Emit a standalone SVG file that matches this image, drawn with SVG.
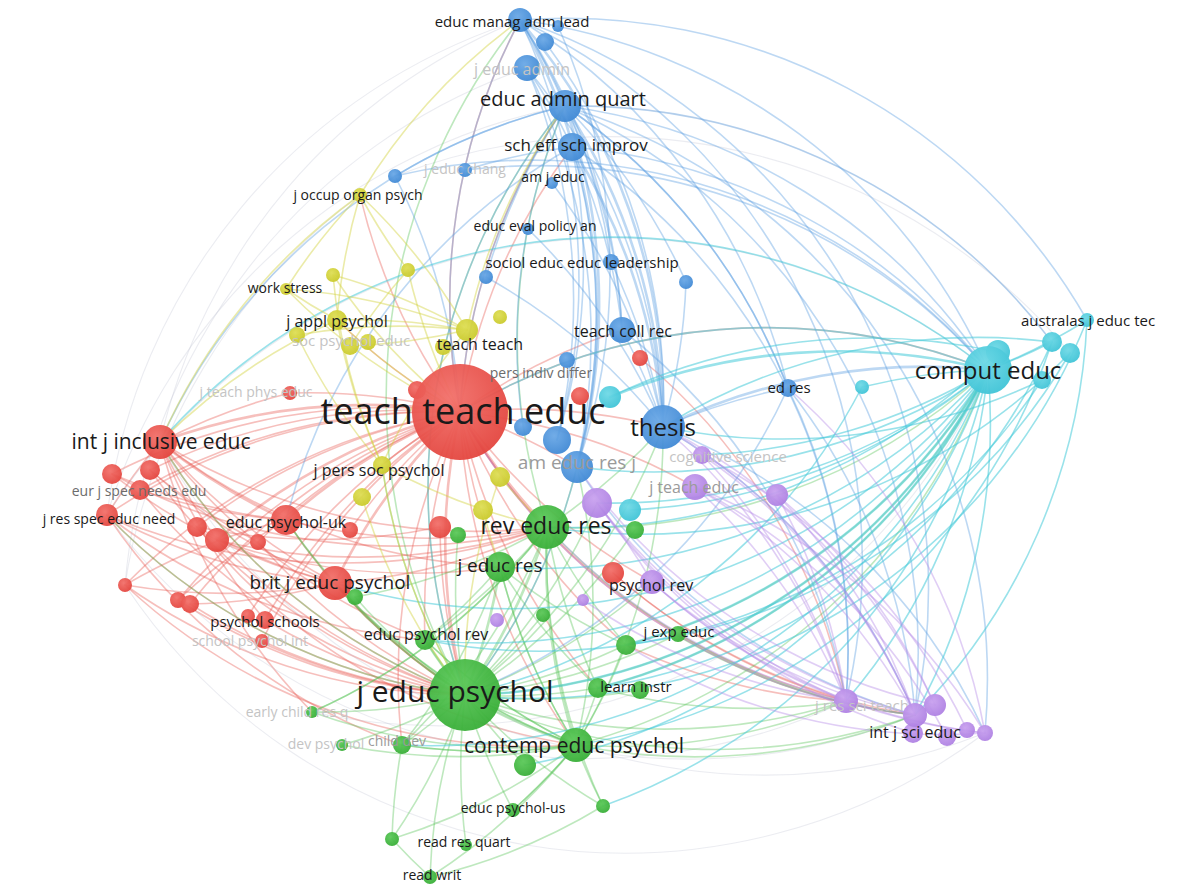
<svg xmlns="http://www.w3.org/2000/svg" width="1179" height="887" viewBox="0 0 1179 887">
<defs>
<radialGradient id="gr" cx="40%" cy="35%" r="70%"><stop offset="0" stop-color="#f2706a"/><stop offset="1" stop-color="#e3443d"/></radialGradient>
<radialGradient id="gg" cx="40%" cy="35%" r="70%"><stop offset="0" stop-color="#5cc95a"/><stop offset="1" stop-color="#37ad36"/></radialGradient>
<radialGradient id="gb" cx="40%" cy="35%" r="70%"><stop offset="0" stop-color="#6aa8e6"/><stop offset="1" stop-color="#3f88d4"/></radialGradient>
<radialGradient id="gc" cx="40%" cy="35%" r="70%"><stop offset="0" stop-color="#6fd9e6"/><stop offset="1" stop-color="#3ec3d6"/></radialGradient>
<radialGradient id="gp" cx="40%" cy="35%" r="70%"><stop offset="0" stop-color="#c9a2ef"/><stop offset="1" stop-color="#ad7fe2"/></radialGradient>
<radialGradient id="gy" cx="40%" cy="35%" r="70%"><stop offset="0" stop-color="#dede55"/><stop offset="1" stop-color="#c9c92a"/></radialGradient>
</defs>
<style>
path{fill:none;stroke-width:1.6;stroke-linecap:round}
.r{stroke:#e8564f;stroke-opacity:.38}
.g{stroke:#55c253;stroke-opacity:.38}
.b{stroke:#5a9ee2;stroke-opacity:.4}
.c{stroke:#46cbd9;stroke-opacity:.55}
.p{stroke:#b48ae6;stroke-opacity:.42}
.y{stroke:#d2d240;stroke-opacity:.45}
.k{stroke:#b6bccd;stroke-opacity:.28;stroke-width:1.1}
.w{stroke-width:2.6}
.nr{fill:url(#gr)}.ng{fill:url(#gg)}.nb{fill:url(#gb)}.nc{fill:url(#gc)}.np{fill:url(#gp)}.ny{fill:url(#gy)}
circle{fill-opacity:.95}
text{font-family:"Open Sans","Noto Sans","DejaVu Sans",sans-serif;fill:#1a1a1a;text-anchor:middle}
.f1{fill:#6c6c6c}.f2{fill:#9a9a9a}.f3{fill:#c4c4c4}
</style>
<rect width="1179" height="887" fill="#ffffff"/>
<g id="connectors">
<path class="r w" d="M460 412A600 600 0 0 0 160 442"/>
<path class="r" d="M460 412A600 600 0 0 0 107 515"/>
<path class="r w" d="M460 412A600 600 0 0 0 217 540"/>
<path class="r w" d="M460 412A600 600 0 0 0 286 520"/>
<path class="r w" d="M460 412A600 600 0 0 0 335 583"/>
<path class="r" d="M460 412A600 600 0 0 0 125 585"/>
<path class="r" d="M460 412A600 600 0 0 0 190 604"/>
<path class="r" d="M460 412A600 600 0 0 0 265 620"/>
<path class="r" d="M460 412A600 600 0 0 0 262 641"/>
<path class="r" d="M460 412A600 600 0 0 0 112 474"/>
<path class="r" d="M460 412A600 600 0 0 0 150 470"/>
<path class="r" d="M460 412A600 600 0 0 0 140 490"/>
<path class="r" d="M460 412A600 600 0 0 0 197 527"/>
<path class="r" d="M460 412A600 600 0 0 0 290 393"/>
<path class="r w" d="M460 412A600 600 0 0 0 547 527"/>
<path class="r w" d="M460 412A600 600 0 0 0 465 695"/>
<path class="r" d="M460 412A600 600 0 0 1 663 427"/>
<path class="r" d="M460 412A600 600 0 0 1 565 106"/>
<path class="r" d="M460 412A600 600 0 0 1 572 147"/>
<path class="r" d="M460 412A600 600 0 0 1 988 370"/>
<path class="r" d="M460 412A600 600 0 0 0 846 701"/>
<path class="r" d="M460 412A600 600 0 0 0 915 715"/>
<path class="r" d="M460 412A600 600 0 0 0 500 567"/>
<path class="r" d="M460 412A600 600 0 0 0 425 640"/>
<path class="r" d="M460 412A600 600 0 0 1 622 330"/>
<path class="r" d="M460 412A600 600 0 0 1 337 320"/>
<path class="r" d="M460 412A600 600 0 0 1 360 195"/>
<path class="r" d="M460 412A600 600 0 0 1 520 20"/>
<path class="r" d="M460 412A600 600 0 0 0 576 745"/>
<path class="r" d="M460 412A600 600 0 0 0 382 465"/>
<path class="r" d="M460 412A600 600 0 0 1 577 467"/>
<path class="r" d="M460 412A600 600 0 0 0 258 542"/>
<path class="r" d="M460 412A600 600 0 0 0 350 530"/>
<path class="r" d="M460 412A600 600 0 0 0 178 600"/>
<path class="r" d="M460 412A600 600 0 0 0 248 616"/>
<path class="r" d="M460 412A600 600 0 0 0 402 745"/>
<path class="r" d="M460 412A600 600 0 0 0 626 645"/>
<path class="r" d="M460 412A600 600 0 0 0 598 688"/>
<path class="r" d="M460 412A600 600 0 0 0 652 582"/>
<path class="r" d="M460 412A600 600 0 0 1 695 487"/>
<path class="r" d="M160 442A600 600 0 0 0 107 515"/>
<path class="r w" d="M160 442A600 600 0 0 0 286 520"/>
<path class="r" d="M160 442A600 600 0 0 0 335 583"/>
<path class="r" d="M160 442A600 600 0 0 0 465 695"/>
<path class="r" d="M107 515A600 600 0 0 0 335 583"/>
<path class="r" d="M107 515A600 600 0 0 0 465 695"/>
<path class="r" d="M125 585A600 600 0 0 1 286 520"/>
<path class="r" d="M125 585A600 600 0 0 0 335 583"/>
<path class="r" d="M190 604A600 600 0 0 0 465 695"/>
<path class="r" d="M286 520A600 600 0 0 0 547 527"/>
<path class="r w" d="M335 583A600 600 0 0 0 465 695"/>
<path class="r" d="M335 583A600 600 0 0 0 547 527"/>
<path class="r" d="M160 442A600 600 0 0 0 217 540"/>
<path class="r" d="M613 573A600 600 0 0 0 846 701"/>
<path class="r" d="M613 573A600 600 0 0 0 915 715"/>
<path class="r" d="M626 645A600 600 0 0 0 846 701"/>
<path class="r" d="M640 358A600 600 0 0 1 846 701"/>
<path class="r" d="M125 585A600 600 0 0 0 576 745"/>
<path class="r" d="M107 515A600 600 0 0 0 402 745"/>
<path class="r" d="M178 600A600 600 0 0 0 465 695"/>
<path class="r" d="M160 442A600 600 0 0 0 312 712"/>
<path class="r" d="M112 474A600 600 0 0 0 335 583"/>
<path class="r" d="M140 490A600 600 0 0 0 286 520"/>
<path class="r" d="M290 393A600 600 0 0 0 160 442"/>
<path class="r" d="M440 527A600 600 0 0 0 465 695"/>
<path class="r" d="M150 470A600 600 0 0 0 258 542"/>
<path class="r" d="M197 527A600 600 0 0 0 440 527"/>
<path class="r" d="M217 540A600 600 0 0 0 500 567"/>
<path class="r" d="M112 474A600 600 0 0 0 286 520"/>
<path class="r" d="M150 470A600 600 0 0 0 335 583"/>
<path class="r" d="M197 527A600 600 0 0 0 335 583"/>
<path class="r" d="M217 540A600 600 0 0 0 465 695"/>
<path class="r" d="M258 542A600 600 0 0 0 465 695"/>
<path class="r" d="M140 490A600 600 0 0 0 465 695"/>
<path class="r" d="M107 515A600 600 0 0 0 547 527"/>
<path class="r" d="M160 442A600 600 0 0 0 547 527"/>
<path class="r" d="M112 474A600 600 0 0 0 547 527"/>
<path class="r" d="M125 585A600 600 0 0 0 465 695"/>
<path class="r" d="M160 442A600 600 0 0 0 500 567"/>
<path class="r" d="M286 520A600 600 0 0 0 465 695"/>
<path class="r" d="M190 604A600 600 0 0 0 335 583"/>
<path class="r" d="M178 600A600 600 0 0 1 286 520"/>
<path class="r" d="M265 620A600 600 0 0 0 465 695"/>
<path class="r" d="M262 641A600 600 0 0 0 465 695"/>
<path class="r" d="M265 620A600 600 0 0 1 160 442"/>
<path class="r" d="M160 442A600 600 0 0 0 425 640"/>
<path class="r" d="M107 515A600 600 0 0 0 425 640"/>
<path class="r" d="M217 540A600 600 0 0 0 547 527"/>
<path class="r" d="M150 470A600 600 0 0 0 465 695"/>
<path class="r" d="M197 527A600 600 0 0 0 576 745"/>
<path class="k" d="M107 515A600 600 0 0 1 565 106"/>
<path class="k" d="M160 442A600 600 0 0 1 520 20"/>
<path class="k" d="M125 585A600 600 0 0 1 360 195"/>
<path class="k" d="M107 515A600 600 0 0 1 520 20"/>
<path class="k" d="M125 585A600 600 0 0 1 527 68"/>
<path class="k" d="M107 515A600 600 0 0 1 988 370"/>
<path class="k" d="M465 695A600 600 0 0 0 985 733"/>
<path class="k" d="M160 442A600 600 0 0 0 915 715"/>
<path class="k" d="M107 515A600 600 0 0 0 846 701"/>
<path class="k" d="M125 585A600 600 0 0 0 985 733"/>
<path class="k" d="M312 712A600 600 0 0 0 988 370"/>
<path class="k" d="M395 176A600 600 0 0 1 1070 353"/>
<path class="k" d="M565 106A600 600 0 0 1 1052 342"/>
<path class="g w" d="M465 695A600 600 0 0 0 576 745"/>
<path class="g w" d="M465 695A600 600 0 0 0 547 527"/>
<path class="g w" d="M465 695A600 600 0 0 0 500 567"/>
<path class="g" d="M465 695A600 600 0 0 1 425 640"/>
<path class="g" d="M465 695A600 600 0 0 0 626 645"/>
<path class="g" d="M465 695A600 600 0 0 0 598 688"/>
<path class="g" d="M465 695A600 600 0 0 0 603 806"/>
<path class="g" d="M465 695A600 600 0 0 1 392 839"/>
<path class="g" d="M465 695A600 600 0 0 0 430 877"/>
<path class="g" d="M465 695A600 600 0 0 1 402 745"/>
<path class="g" d="M465 695A600 600 0 0 1 312 712"/>
<path class="g" d="M465 695A600 600 0 0 1 342 745"/>
<path class="g" d="M465 695A600 600 0 0 0 525 765"/>
<path class="g" d="M465 695A600 600 0 0 0 846 701"/>
<path class="g" d="M465 695A600 600 0 0 0 915 715"/>
<path class="g" d="M465 695A600 600 0 0 0 988 370"/>
<path class="g" d="M465 695A600 600 0 0 0 663 427"/>
<path class="g" d="M465 695A600 600 0 0 1 286 520"/>
<path class="g" d="M465 695A600 600 0 0 0 577 467"/>
<path class="g" d="M465 695A600 600 0 0 1 458 535"/>
<path class="g" d="M465 695A600 600 0 0 0 635 530"/>
<path class="g" d="M465 695A600 600 0 0 0 543 615"/>
<path class="g" d="M465 695A600 600 0 0 1 355 597"/>
<path class="g" d="M465 695A600 600 0 0 0 678 634"/>
<path class="g" d="M465 695A600 600 0 0 0 513 810"/>
<path class="g" d="M465 695A600 600 0 0 0 466 845"/>
<path class="g" d="M465 695A600 600 0 0 0 640 690"/>
<path class="g" d="M465 695A600 600 0 0 1 335 583"/>
<path class="g" d="M465 695A600 600 0 0 1 160 442"/>
<path class="g" d="M465 695A600 600 0 0 1 107 515"/>
<path class="g w" d="M465 695A600 600 0 0 1 425 640"/>
<path class="g" d="M465 695A600 600 0 0 0 652 582"/>
<path class="g" d="M465 695A600 600 0 0 0 597 503"/>
<path class="g" d="M465 695A600 600 0 0 1 382 465"/>
<path class="g w" d="M576 745A600 600 0 0 1 547 527"/>
<path class="g" d="M576 745A600 600 0 0 0 603 806"/>
<path class="g" d="M576 745A600 600 0 0 1 392 839"/>
<path class="g" d="M576 745A600 600 0 0 1 430 877"/>
<path class="g" d="M576 745A600 600 0 0 0 988 370"/>
<path class="g" d="M576 745A600 600 0 0 0 846 701"/>
<path class="g" d="M576 745A600 600 0 0 0 915 715"/>
<path class="g" d="M576 745A600 600 0 0 1 312 712"/>
<path class="g" d="M576 745A600 600 0 0 0 626 645"/>
<path class="g" d="M576 745A600 600 0 0 1 500 567"/>
<path class="g" d="M576 745A600 600 0 0 1 425 640"/>
<path class="g" d="M576 745A600 600 0 0 1 402 745"/>
<path class="g" d="M576 745A600 600 0 0 0 598 688"/>
<path class="g" d="M576 745A600 600 0 0 1 513 810"/>
<path class="g" d="M576 745A600 600 0 0 1 335 583"/>
<path class="g" d="M576 745A600 600 0 0 1 286 520"/>
<path class="g" d="M576 745A600 600 0 0 0 663 427"/>
<path class="g" d="M576 745A600 600 0 0 0 577 467"/>
<path class="g" d="M547 527A600 600 0 0 0 626 645"/>
<path class="g" d="M547 527A600 600 0 0 1 425 640"/>
<path class="g" d="M547 527A600 600 0 0 0 663 427"/>
<path class="g" d="M547 527A600 600 0 0 0 988 370"/>
<path class="g" d="M547 527A600 600 0 0 1 565 106"/>
<path class="g" d="M547 527A600 600 0 0 0 915 715"/>
<path class="g" d="M547 527A600 600 0 0 0 598 688"/>
<path class="g" d="M547 527A600 600 0 0 1 402 745"/>
<path class="g" d="M547 527A600 600 0 0 1 312 712"/>
<path class="g" d="M547 527A600 600 0 0 0 603 806"/>
<path class="g" d="M500 567A600 600 0 0 0 598 688"/>
<path class="g" d="M500 567A600 600 0 0 0 576 745"/>
<path class="g" d="M500 567A600 600 0 0 1 402 745"/>
<path class="g" d="M500 567A600 600 0 0 0 626 645"/>
<path class="g" d="M500 567A600 600 0 0 1 425 640"/>
<path class="g" d="M425 640A600 600 0 0 0 576 745"/>
<path class="g" d="M626 645A600 600 0 0 0 988 370"/>
<path class="g" d="M598 688A600 600 0 0 0 988 370"/>
<path class="g" d="M598 688A600 600 0 0 0 846 701"/>
<path class="g" d="M678 636A600 600 0 0 0 915 715"/>
<path class="g" d="M392 839A600 600 0 0 0 430 877"/>
<path class="g" d="M402 745A600 600 0 0 0 576 745"/>
<path class="g" d="M465 695A600 600 0 0 1 520 20"/>
<path class="g" d="M465 695A600 600 0 0 1 565 106"/>
<path class="g" d="M355 597A600 600 0 0 0 547 527"/>
<path class="g" d="M402 745A600 600 0 0 0 392 839"/>
<path class="g" d="M513 810A600 600 0 0 0 576 745"/>
<path class="g" d="M342 745A600 600 0 0 0 576 745"/>
<path class="g" d="M312 712A600 600 0 0 0 547 527"/>
<path class="g" d="M430 877A600 600 0 0 0 603 806"/>
<path class="b w" d="M520 20A600 600 0 0 1 663 427"/>
<path class="b w" d="M565 106A600 600 0 0 1 663 427"/>
<path class="b w" d="M572 147A600 600 0 0 1 663 427"/>
<path class="b" d="M527 68A600 600 0 0 1 663 427"/>
<path class="b w" d="M520 20A600 600 0 0 1 577 467"/>
<path class="b w" d="M565 106A600 600 0 0 1 577 467"/>
<path class="b" d="M572 147A600 600 0 0 1 577 467"/>
<path class="b" d="M527 68A600 600 0 0 1 577 467"/>
<path class="b" d="M520 20A600 600 0 0 1 622 330"/>
<path class="b" d="M565 106A600 600 0 0 1 622 330"/>
<path class="b" d="M520 20A600 600 0 0 1 565 106"/>
<path class="b" d="M527 68A600 600 0 0 1 572 147"/>
<path class="b" d="M520 20A600 600 0 0 1 988 370"/>
<path class="b" d="M565 106A600 600 0 0 1 988 370"/>
<path class="b" d="M572 147A600 600 0 0 1 988 370"/>
<path class="b" d="M520 20A600 600 0 0 1 1087 320"/>
<path class="b" d="M565 106A600 600 0 0 1 1052 342"/>
<path class="b" d="M565 106A600 600 0 0 0 160 442"/>
<path class="b" d="M572 147A600 600 0 0 0 286 520"/>
<path class="b" d="M565 106A600 600 0 0 0 465 695"/>
<path class="b" d="M572 147A600 600 0 0 1 846 701"/>
<path class="b" d="M565 106A600 600 0 0 1 915 715"/>
<path class="b" d="M520 20A600 600 0 0 1 915 715"/>
<path class="b w" d="M663 427A600 600 0 0 1 988 370"/>
<path class="b" d="M663 427A600 600 0 0 1 788 388"/>
<path class="b" d="M788 388A600 600 0 0 0 565 106"/>
<path class="b" d="M788 388A600 600 0 0 1 846 701"/>
<path class="b" d="M788 388A600 600 0 0 1 915 715"/>
<path class="b" d="M788 388A600 600 0 0 1 465 695"/>
<path class="b" d="M395 176A600 600 0 0 1 565 106"/>
<path class="b" d="M465 170A600 600 0 0 1 572 147"/>
<path class="b" d="M486 277A600 600 0 0 1 565 106"/>
<path class="b" d="M611 262A600 600 0 0 0 520 20"/>
<path class="b" d="M686 282A600 600 0 0 0 565 106"/>
<path class="b" d="M686 282A600 600 0 0 1 663 427"/>
<path class="b" d="M552 183A600 600 0 0 1 663 427"/>
<path class="b" d="M528 229A600 600 0 0 1 663 427"/>
<path class="b" d="M395 176A600 600 0 0 1 988 370"/>
<path class="b" d="M465 170A600 600 0 0 1 988 370"/>
<path class="b" d="M577 467A600 600 0 0 1 465 695"/>
<path class="b" d="M520 20A600 600 0 0 1 846 701"/>
<path class="b" d="M545 42A600 600 0 0 1 663 427"/>
<path class="b" d="M558 26A600 600 0 0 1 577 467"/>
<path class="b" d="M622 330A600 600 0 0 1 663 427"/>
<path class="b" d="M395 176A600 600 0 0 1 460 412"/>
<path class="b" d="M520 20A600 600 0 0 1 557 440"/>
<path class="b" d="M527 68A600 600 0 0 1 557 440"/>
<path class="b" d="M572 147A600 600 0 0 1 557 440"/>
<path class="b" d="M565 106A600 600 0 0 0 523 427"/>
<path class="b" d="M520 20A600 600 0 0 0 460 412"/>
<path class="b" d="M565 106A600 600 0 0 0 460 412"/>
<path class="b" d="M565 106A600 600 0 0 1 788 388"/>
<path class="b" d="M520 20A600 600 0 0 1 788 388"/>
<path class="b" d="M572 147A600 600 0 0 1 622 330"/>
<path class="b" d="M486 277A600 600 0 0 1 663 427"/>
<path class="b" d="M611 262A600 600 0 0 1 663 427"/>
<path class="b" d="M663 427A600 600 0 0 1 915 715"/>
<path class="b" d="M663 427A600 600 0 0 1 985 733"/>
<path class="b" d="M577 467A600 600 0 0 0 915 715"/>
<path class="b" d="M622 330A600 600 0 0 1 846 701"/>
<path class="b" d="M565 106A600 600 0 0 1 985 733"/>
<path class="c w" d="M988 370A600 600 0 0 0 610 397"/>
<path class="c" d="M988 370A600 600 0 0 1 630 510"/>
<path class="c" d="M988 370A600 600 0 0 1 597 503"/>
<path class="c" d="M988 370A600 600 0 0 1 577 467"/>
<path class="c" d="M988 370A600 600 0 0 0 460 412"/>
<path class="c w" d="M988 370A600 600 0 0 1 626 645"/>
<path class="c w" d="M988 370A600 600 0 0 1 598 688"/>
<path class="c" d="M988 370A600 600 0 0 1 402 745"/>
<path class="c" d="M988 370A600 600 0 0 1 525 765"/>
<path class="c" d="M988 370A600 600 0 0 1 603 806"/>
<path class="c" d="M988 370A600 600 0 0 1 500 567"/>
<path class="c" d="M988 370A600 600 0 0 1 425 640"/>
<path class="c" d="M988 370A600 600 0 0 1 846 701"/>
<path class="c" d="M988 370A600 600 0 0 1 915 715"/>
<path class="c" d="M1087 320A600 600 0 0 1 915 715"/>
<path class="c" d="M1087 320A600 600 0 0 1 465 695"/>
<path class="c" d="M1052 342A600 600 0 0 1 576 745"/>
<path class="c" d="M1070 353A600 600 0 0 1 626 645"/>
<path class="c" d="M988 370A600 600 0 0 0 160 442"/>
<path class="c" d="M988 370A600 600 0 0 1 335 583"/>
<path class="c" d="M1042 380A600 600 0 0 1 425 640"/>
<path class="c" d="M862 387A600 600 0 0 1 465 695"/>
<path class="c" d="M988 370A600 600 0 0 0 862 387"/>
<path class="c" d="M988 370A600 600 0 0 0 1087 320"/>
<path class="c" d="M988 370A600 600 0 0 0 1052 342"/>
<path class="c" d="M998 352A600 600 0 0 0 610 397"/>
<path class="c" d="M1052 342A600 600 0 0 0 663 427"/>
<path class="c" d="M1070 353A600 600 0 0 1 547 527"/>
<path class="c" d="M1042 380A600 600 0 0 1 663 427"/>
<path class="c w" d="M988 370A600 600 0 0 1 465 695"/>
<path class="c" d="M998 352A600 600 0 0 1 547 527"/>
<path class="c" d="M1052 342A600 600 0 0 1 598 688"/>
<path class="c" d="M988 370A600 600 0 0 1 702 455"/>
<path class="p" d="M915 715A600 600 0 0 0 695 487"/>
<path class="p" d="M915 715A600 600 0 0 0 777 495"/>
<path class="p" d="M915 715A600 600 0 0 1 597 503"/>
<path class="p" d="M915 715A600 600 0 0 1 652 582"/>
<path class="p" d="M846 701A600 600 0 0 0 695 487"/>
<path class="p" d="M846 701A600 600 0 0 0 702 455"/>
<path class="p" d="M846 701A600 600 0 0 1 597 503"/>
<path class="p" d="M846 701A600 600 0 0 1 547 527"/>
<path class="p" d="M846 701A600 600 0 0 0 663 427"/>
<path class="p" d="M985 733A600 600 0 0 0 695 487"/>
<path class="p" d="M935 705A600 600 0 0 0 777 495"/>
<path class="p" d="M915 715A600 600 0 0 1 460 412"/>
<path class="p" d="M985 733A600 600 0 0 0 788 388"/>
<path class="p" d="M935 705A600 600 0 0 0 663 427"/>
<path class="p" d="M846 701A600 600 0 0 1 652 582"/>
<path class="p" d="M967 730A600 600 0 0 0 702 455"/>
<path class="p" d="M846 701A600 600 0 0 0 985 733"/>
<path class="p" d="M652 582A600 600 0 0 0 597 503"/>
<path class="p" d="M935 705A600 600 0 0 1 577 467"/>
<path class="p" d="M985 733A600 600 0 0 1 626 645"/>
<path class="p" d="M846 701A600 600 0 0 0 777 495"/>
<path class="p" d="M915 715A600 600 0 0 0 702 455"/>
<path class="p" d="M947 737A600 600 0 0 0 695 487"/>
<path class="p" d="M913 733A600 600 0 0 1 597 503"/>
<path class="p" d="M985 733A600 600 0 0 1 652 582"/>
<path class="p" d="M846 701A600 600 0 0 1 583 600"/>
<path class="p" d="M915 715A600 600 0 0 0 663 427"/>
<path class="y" d="M360 195A600 600 0 0 0 286 289"/>
<path class="y" d="M360 195A600 600 0 0 0 337 320"/>
<path class="y" d="M360 195A600 600 0 0 1 467 330"/>
<path class="y" d="M286 289A600 600 0 0 1 467 330"/>
<path class="y" d="M337 320A600 600 0 0 1 467 330"/>
<path class="y" d="M337 320A600 600 0 0 0 382 465"/>
<path class="y" d="M467 330A600 600 0 0 0 382 465"/>
<path class="y" d="M467 330A600 600 0 0 1 565 106"/>
<path class="y" d="M333 275A600 600 0 0 0 460 412"/>
<path class="y" d="M408 270A600 600 0 0 0 460 412"/>
<path class="y" d="M382 465A600 600 0 0 0 547 527"/>
<path class="y" d="M500 477A600 600 0 0 0 465 695"/>
<path class="y" d="M337 320A600 600 0 0 0 160 442"/>
<path class="y" d="M360 195A600 600 0 0 0 160 442"/>
<path class="y" d="M297 335A600 600 0 0 1 467 330"/>
<path class="y" d="M360 195A600 600 0 0 1 520 20"/>
<path class="y" d="M483 510A600 600 0 0 0 500 567"/>
<path class="y" d="M286 289A600 600 0 0 0 337 320"/>
<path class="y" d="M408 270A600 600 0 0 0 350 346"/>
<path class="y" d="M333 275A600 600 0 0 0 382 465"/>
<path class="y" d="M337 320A600 600 0 0 0 460 412"/>
<path class="y" d="M286 289A600 600 0 0 0 460 412"/>
<path class="y" d="M350 346A600 600 0 0 0 467 330"/>
<path class="y" d="M360 195A600 600 0 0 0 408 270"/>
<path class="y" d="M333 275A600 600 0 0 1 467 330"/>
<path class="y" d="M297 335A600 600 0 0 0 382 465"/>
<path class="y" d="M382 465A600 600 0 0 0 465 695"/>
<path class="y" d="M362 497A600 600 0 0 0 465 695"/>
<path class="y" d="M500 477A600 600 0 0 0 547 527"/>
</g>
<g id="node-r-a"><circle class="nr" cx="112" cy="474" r="10"/></g>
<g id="node-r-b"><circle class="nr" cx="150" cy="470" r="10"/></g>
<g id="node-r-c"><circle class="nr" cx="197" cy="527" r="10"/></g>
<g id="node-r-d"><circle class="nr" cx="217" cy="540" r="12"/></g>
<g id="node-r-e"><circle class="nr" cx="258" cy="542" r="8"/></g>
<g id="node-r-f"><circle class="nr" cx="350" cy="530" r="8"/></g>
<g id="node-r-g"><circle class="nr" cx="440" cy="527" r="11"/></g>
<g id="node-r-h"><circle class="nr" cx="125" cy="585" r="7"/></g>
<g id="node-r-i"><circle class="nr" cx="178" cy="600" r="8"/></g>
<g id="node-r-j"><circle class="nr" cx="190" cy="604" r="9"/></g>
<g id="node-r-k"><circle class="nr" cx="248" cy="616" r="7"/></g>
<g id="node-r-l"><circle class="nr" cx="417" cy="390" r="9"/></g>
<g id="node-r-m"><circle class="nr" cx="580" cy="396" r="9"/></g>
<g id="node-r-n"><circle class="nr" cx="640" cy="358" r="8"/></g>
<g id="node-r-o"><circle class="nr" cx="613" cy="573" r="11"/></g>
<g id="node-y-a"><circle class="ny" cx="333" cy="275" r="7"/></g>
<g id="node-y-b"><circle class="ny" cx="408" cy="270" r="7"/></g>
<g id="node-y-c"><circle class="ny" cx="297" cy="335" r="8"/></g>
<g id="node-y-d"><circle class="ny" cx="368" cy="342" r="8"/></g>
<g id="node-y-e"><circle class="ny" cx="500" cy="317" r="7"/></g>
<g id="node-y-f"><circle class="ny" cx="443" cy="347" r="8"/></g>
<g id="node-y-g"><circle class="ny" cx="362" cy="497" r="9"/></g>
<g id="node-y-h"><circle class="ny" cx="500" cy="477" r="10"/></g>
<g id="node-y-i"><circle class="ny" cx="483" cy="510" r="10"/></g>
<g id="node-b-a"><circle class="nb" cx="545" cy="42" r="9"/></g>
<g id="node-b-b"><circle class="nb" cx="558" cy="26" r="6"/></g>
<g id="node-b-c"><circle class="nb" cx="395" cy="176" r="7"/></g>
<g id="node-b-d"><circle class="nb" cx="486" cy="277" r="7"/></g>
<g id="node-b-f"><circle class="nb" cx="611" cy="262" r="8"/></g>
<g id="node-b-g"><circle class="nb" cx="686" cy="282" r="7"/></g>
<g id="node-b-h"><circle class="nb" cx="567" cy="360" r="8"/></g>
<g id="node-b-i"><circle class="nb" cx="523" cy="427" r="9"/></g>
<g id="node-b-j"><circle class="nb" cx="557" cy="440" r="14"/></g>
<g id="node-c-a"><circle class="nc" cx="998" cy="352" r="12"/></g>
<g id="node-c-b"><circle class="nc" cx="1052" cy="342" r="10"/></g>
<g id="node-c-c"><circle class="nc" cx="1070" cy="353" r="10"/></g>
<g id="node-c-d"><circle class="nc" cx="1042" cy="380" r="9"/></g>
<g id="node-c-e"><circle class="nc" cx="862" cy="387" r="7"/></g>
<g id="node-c-f"><circle class="nc" cx="610" cy="397" r="11"/></g>
<g id="node-c-g"><circle class="nc" cx="630" cy="510" r="11"/></g>
<g id="node-p-b"><circle class="np" cx="777" cy="495" r="11"/></g>
<g id="node-p-c"><circle class="np" cx="597" cy="503" r="15"/></g>
<g id="node-p-d"><circle class="np" cx="583" cy="600" r="6"/></g>
<g id="node-p-e"><circle class="np" cx="497" cy="620" r="7"/></g>
<g id="node-p-f"><circle class="np" cx="935" cy="705" r="11"/></g>
<g id="node-p-g"><circle class="np" cx="947" cy="737" r="9"/></g>
<g id="node-p-h"><circle class="np" cx="967" cy="730" r="8"/></g>
<g id="node-p-i"><circle class="np" cx="985" cy="733" r="8"/></g>
<g id="node-p-j"><circle class="np" cx="913" cy="733" r="10"/></g>
<g id="node-g-a"><circle class="ng" cx="458" cy="535" r="8"/></g>
<g id="node-g-b"><circle class="ng" cx="635" cy="530" r="9"/></g>
<g id="node-g-c"><circle class="ng" cx="543" cy="615" r="7"/></g>
<g id="node-g-d"><circle class="ng" cx="355" cy="597" r="8"/></g>
<g id="node-g-e"><circle class="ng" cx="678" cy="634" r="8"/></g>
<g id="node-g-f"><circle class="ng" cx="525" cy="765" r="11"/></g>
<g id="node-g-g"><circle class="ng" cx="513" cy="810" r="7"/></g>
<g id="node-g-h"><circle class="ng" cx="466" cy="845" r="6"/></g>
<g id="node-g-i"><circle class="ng" cx="640" cy="690" r="9"/></g>
<g id="node-teach-teach-educ"><circle class="nr" cx="460" cy="412" r="48"/><text x="463" y="424" font-size="36">teach teach educ</text></g>
<g id="node-j-educ-psychol"><circle class="ng" cx="465" cy="695" r="36"/><text x="455" y="702" font-size="30">j educ psychol</text></g>
<g id="node-rev-educ-res"><circle class="ng" cx="547" cy="527" r="22"/><text x="546" y="534" font-size="23">rev educ res</text></g>
<g id="node-thesis"><circle class="nb" cx="663" cy="427" r="22"/><text x="663" y="436" font-size="24">thesis</text></g>
<g id="node-comput-educ"><circle class="nc" cx="988" cy="370" r="24"/><text x="988" y="379" font-size="24">comput educ</text></g>
<g id="node-am-educ-res-j"><circle class="nb" cx="577" cy="467" r="16"/><text class="f2" x="577" y="469" font-size="19">am educ res j</text></g>
<g id="node-int-j-inclusive-educ"><circle class="nr" cx="160" cy="442" r="17"/><text x="161" y="449" font-size="21">int j inclusive educ</text></g>
<g id="node-educ-psychol-uk"><circle class="nr" cx="286" cy="520" r="15"/><text x="286" y="528" font-size="16">educ psychol-uk</text></g>
<g id="node-brit-j-educ-psychol"><circle class="nr" cx="335" cy="583" r="17"/><text x="330" y="589" font-size="19">brit j educ psychol</text></g>
<g id="node-eur-j-spec-needs-edu"><circle class="nr" cx="140" cy="490" r="10"/><text class="f1" x="139" y="496" font-size="14">eur j spec needs edu</text></g>
<g id="node-j-res-spec-educ-need"><circle class="nr" cx="107" cy="515" r="11"/><text x="109" y="524" font-size="14">j res spec educ need</text></g>
<g id="node-psychol-schools"><circle class="nr" cx="265" cy="620" r="9"/><text x="265" y="627" font-size="15">psychol schools</text></g>
<g id="node-school-psychol-int"><circle class="nr" cx="262" cy="641" r="7"/><text class="f3" x="250" y="646" font-size="14">school psychol int</text></g>
<g id="node-j-teach-phys-educ"><circle class="nr" cx="290" cy="393" r="7"/><text class="f3" x="256" y="397" font-size="14">j teach phys educ</text></g>
<g id="node-pers-indiv-differ"><text class="f1" x="541" y="378" font-size="14">pers indiv differ</text></g>
<g id="node-j-pers-soc-psychol"><circle class="ny" cx="382" cy="465" r="9"/><text x="379" y="476" font-size="16">j pers soc psychol</text></g>
<g id="node-j-occup-organ-psych"><circle class="ny" cx="360" cy="195" r="7"/><text x="358" y="200" font-size="14">j occup organ psych</text></g>
<g id="node-work-stress"><circle class="ny" cx="286" cy="289" r="6"/><text x="285" y="293" font-size="14">work stress</text></g>
<g id="node-j-appl-psychol"><circle class="ny" cx="337" cy="320" r="10"/><text x="337" y="327" font-size="16">j appl psychol</text></g>
<g id="node-soc-psychol-educ"><circle class="ny" cx="350" cy="346" r="9"/><text class="f3" x="351" y="346" font-size="15">soc psychol educ</text></g>
<g id="node-teach-teach"><circle class="ny" cx="467" cy="330" r="11"/><text x="480" y="350" font-size="16">teach teach</text></g>
<g id="node-educ-manag-adm-lead"><circle class="nb" cx="520" cy="20" r="12"/><text x="512" y="27" font-size="15">educ manag adm lead</text></g>
<g id="node-j-educ-admin"><circle class="nb" cx="527" cy="68" r="13"/><text class="f3" x="522" y="75" font-size="16">j educ admin</text></g>
<g id="node-educ-admin-quart"><circle class="nb" cx="565" cy="106" r="16"/><text x="563" y="106" font-size="20">educ admin quart</text></g>
<g id="node-sch-eff-sch-improv"><circle class="nb" cx="572" cy="147" r="14"/><text x="576" y="151" font-size="17">sch eff sch improv</text></g>
<g id="node-j-educ-chang"><circle class="nb" cx="465" cy="170" r="7"/><text class="f3" x="465" y="174" font-size="14">j educ chang</text></g>
<g id="node-am-j-educ"><circle class="nb" cx="552" cy="183" r="6"/><text x="553" y="182" font-size="14">am j educ</text></g>
<g id="node-educ-eval-policy-an"><circle class="nb" cx="528" cy="229" r="6"/><text x="535" y="231" font-size="14">educ eval policy an</text></g>
<g id="node-sociol-educ-educ-leadership"><text x="582" y="268" font-size="15">sociol educ educ leadership</text></g>
<g id="node-teach-coll-rec"><circle class="nb" cx="622" cy="330" r="13"/><text x="623" y="337" font-size="16">teach coll rec</text></g>
<g id="node-ed-res"><circle class="nb" cx="788" cy="388" r="9"/><text x="789" y="393" font-size="15">ed res</text></g>
<g id="node-australas-j-educ-tec"><circle class="nc" cx="1087" cy="320" r="7"/><text x="1088" y="326" font-size="15">australas j educ tec</text></g>
<g id="node-cognitive-science"><circle class="np" cx="702" cy="455" r="9"/><text class="f3" x="728" y="462" font-size="15">cognitive science</text></g>
<g id="node-j-teach-educ"><circle class="np" cx="695" cy="487" r="13"/><text class="f2" x="694" y="493" font-size="16">j teach educ</text></g>
<g id="node-psychol-rev"><circle class="np" cx="652" cy="582" r="12"/><text x="651" y="591" font-size="16">psychol rev</text></g>
<g id="node-j-res-sci-teach"><circle class="np" cx="846" cy="701" r="12"/><text class="f3" x="862" y="711" font-size="15">j res sci teach</text></g>
<g id="node-int-j-sci-educ"><circle class="np" cx="915" cy="715" r="12"/><text x="915" y="738" font-size="16">int j sci educ</text></g>
<g id="node-j-educ-res"><circle class="ng" cx="500" cy="567" r="15"/><text x="500" y="572" font-size="19">j educ res</text></g>
<g id="node-educ-psychol-rev"><circle class="ng" cx="425" cy="640" r="10"/><text x="426" y="640" font-size="16">educ psychol rev</text></g>
<g id="node-j-exp-educ"><circle class="ng" cx="626" cy="645" r="10"/><text x="679" y="637" font-size="15">j exp educ</text></g>
<g id="node-learn-instr"><circle class="ng" cx="598" cy="688" r="10"/><text x="636" y="692" font-size="15">learn instr</text></g>
<g id="node-contemp-educ-psychol"><circle class="ng" cx="576" cy="745" r="17"/><text x="574" y="753" font-size="21">contemp educ psychol</text></g>
<g id="node-early-child-res-q"><circle class="ng" cx="312" cy="712" r="6"/><text class="f3" x="297" y="717" font-size="14">early child res q</text></g>
<g id="node-dev-psychol"><circle class="ng" cx="342" cy="745" r="6"/><text class="f3" x="326" y="749" font-size="14">dev psychol</text></g>
<g id="node-child-dev"><circle class="ng" cx="402" cy="745" r="9"/><text class="f2" x="397" y="746" font-size="14">child dev</text></g>
<g id="node-educ-psychol-us"><circle class="ng" cx="603" cy="806" r="7"/><text x="513" y="813" font-size="14">educ psychol-us</text></g>
<g id="node-read-res-quart"><circle class="ng" cx="392" cy="839" r="7"/><text x="464" y="847" font-size="14">read res quart</text></g>
<g id="node-read-writ"><circle class="ng" cx="430" cy="877" r="7"/><text x="432" y="880" font-size="14">read writ</text></g>
</svg>
